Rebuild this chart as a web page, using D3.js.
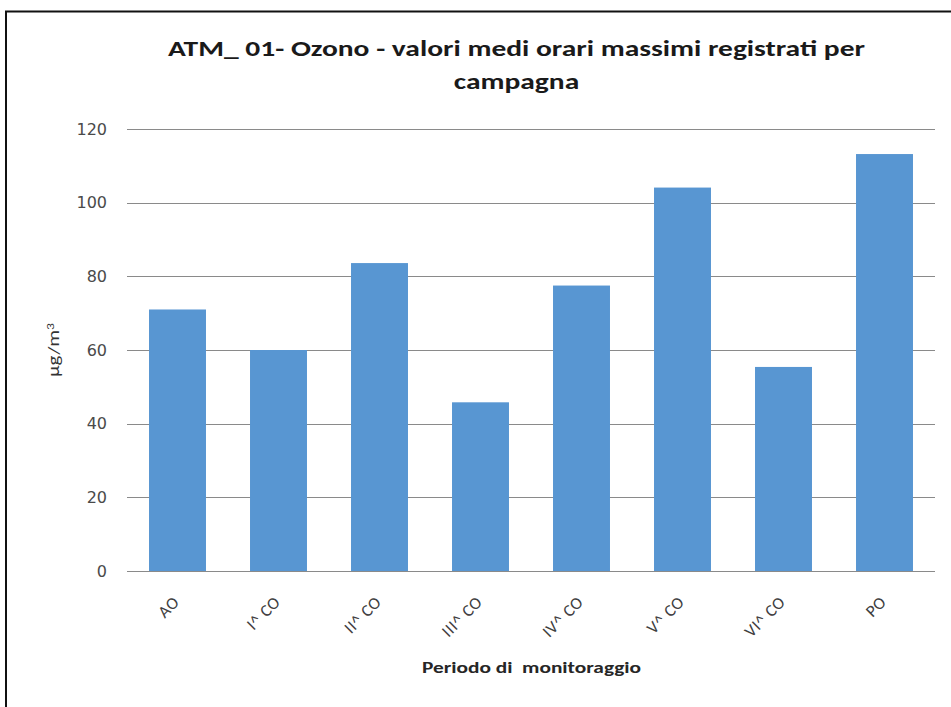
<!DOCTYPE html>
<html><head><meta charset="utf-8">
<script src="https://cdn.jsdelivr.net/npm/d3@7"></script>
<style>
body{margin:0;background:#fff;}
svg{display:block;}
text{white-space:pre;}
</style></head>
<body>
<svg id="chart" width="951" height="707"></svg>
<script>
const categories = ["AO","I^ CO","II^ CO","III^ CO","IV^ CO","V^ CO","VI^ CO","PO"];
const values = [71, 60, 83.6, 45.8, 77.5, 104.1, 55.4, 113.2];
const yTicks = [0,20,40,60,80,100,120];
const titleLines = ["ATM_ 01- Ozono - valori medi orari massimi registrati per","campagna"];
const xTitle = "Periodo di  monitoraggio";

const svg = d3.select("#chart");
const calibri = "Carlito, Lato, 'Open Sans', sans-serif";
const tahoma = "'DejaVu Sans', Verdana, sans-serif";

// outer frame (only top and left visible)
svg.append("rect").attr("x",6).attr("y",11.5).attr("width",1000).attr("height",800)
  .attr("fill","none").attr("stroke","#111").attr("stroke-width",2);

const x = d3.scaleBand().domain(categories).range([127,935]).paddingInner(0.436).paddingOuter(0.218);
const y = d3.scaleLinear().domain([0,120]).range([571,129]);

// gridlines
svg.append("g").selectAll("line").data(yTicks).join("line")
  .attr("x1",127).attr("x2",935)
  .attr("y1",d=>Math.round(y(d))+0.5).attr("y2",d=>Math.round(y(d))+0.5)
  .attr("stroke","#8a8a8a").attr("stroke-width",1);

// y tick labels
svg.append("g").selectAll("text").data(yTicks).join("text")
  .attr("x",107).attr("y",d=>y(d)).attr("dy","0.36em")
  .attr("text-anchor","end").attr("font-family",tahoma).attr("font-size",16)
  .attr("fill","#4a4a4a").text(d=>d);

// bars
svg.append("g").selectAll("rect").data(values).join("rect")
  .attr("x",(d,i)=>x(categories[i])).attr("width",x.bandwidth())
  .attr("y",d=>y(d)).attr("height",d=>y(0)-y(d))
  .attr("fill","#5896d2");

// x labels
svg.append("g").selectAll("text").data(categories).join("text")
  .attr("transform",d=>`translate(${x(d)+x.bandwidth()/2+3},${603}) rotate(-45)`)
  .attr("text-anchor","end")
  .attr("font-family",calibri).attr("font-size",17).attr("letter-spacing",0.6).attr("fill","#404040")
  .text(d=>d);

// title
const tt = svg.append("g").selectAll("text").data(titleLines).join("text")
  .attr("x",516.5).attr("y",(d,i)=>56+i*33).attr("text-anchor","middle")
  .attr("font-family",calibri).attr("font-size",23).attr("font-weight","bold")
  .attr("fill","#1a1a1a").text(d=>d);
const nat = tt.nodes().map(n=>n.getComputedTextLength());
const k = 697/nat[0];
tt.attr("textLength",(d,i)=>nat[i]*k).attr("lengthAdjust","spacingAndGlyphs");

// axis titles
svg.append("text").attr("x",531.5).attr("y",673).attr("text-anchor","middle")
  .attr("font-family",calibri).attr("font-size",16).attr("font-weight","bold").attr("fill","#262626")
  .attr("textLength",219).attr("lengthAdjust","spacingAndGlyphs")
  .text(xTitle);

const yl = svg.append("text").attr("transform","translate(59,350) rotate(-90)")
  .attr("text-anchor","middle").attr("font-family",calibri).attr("font-size",17)
  .attr("fill","#333").attr("textLength",54).attr("lengthAdjust","spacingAndGlyphs");
yl.append("tspan").text("µg/m");
yl.append("tspan").attr("dy","-0.45em").attr("font-size",11).text("3");
</script>
</body></html>
